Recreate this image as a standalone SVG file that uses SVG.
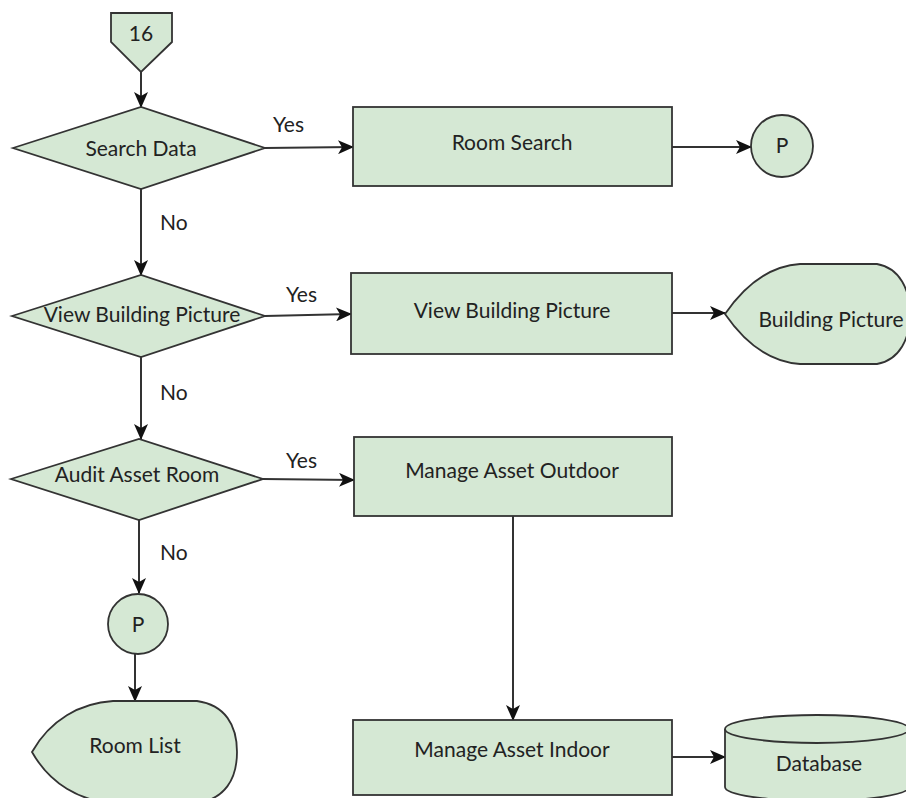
<svg xmlns="http://www.w3.org/2000/svg" width="906" height="798" viewBox="0 0 906 798">
  <defs>
    <style>
      .shape { fill: #d5e8d4; stroke: #333333; stroke-width: 1.8; }
      .lbl { font-family: Lato, "Open Sans", sans-serif; font-size: 21px; fill: #222222; text-anchor: middle; }
      .edge { fill: none; stroke: #333333; stroke-width: 2; }
      .elbl { font-family: Lato, "Open Sans", sans-serif; font-size: 21px; fill: #222222; }
    </style>
    <marker id="arr" viewBox="0 0 16 14" refX="15" refY="7" markerWidth="16" markerHeight="14" markerUnits="userSpaceOnUse" orient="auto">
      <path d="M0,0 L16,7 L0,14 L4,7 Z" fill="#111111"/>
    </marker>
  </defs>
  <rect width="906" height="798" fill="#ffffff"/>

  <g id="connectors">
    <line class="edge" x1="141" y1="72" x2="141" y2="107" marker-end="url(#arr)"/>
    <line class="edge" x1="265" y1="148" x2="353" y2="147" marker-end="url(#arr)"/>
    <line class="edge" x1="672" y1="147" x2="751" y2="147" marker-end="url(#arr)"/>
    <line class="edge" x1="141" y1="189" x2="141" y2="275" marker-end="url(#arr)"/>
    <line class="edge" x1="265" y1="316" x2="351" y2="314" marker-end="url(#arr)"/>
    <line class="edge" x1="672" y1="313" x2="725" y2="313" marker-end="url(#arr)"/>
    <line class="edge" x1="141" y1="357" x2="141" y2="439" marker-end="url(#arr)"/>
    <line class="edge" x1="263" y1="479" x2="354" y2="480" marker-end="url(#arr)"/>
    <line class="edge" x1="513" y1="516" x2="513" y2="720" marker-end="url(#arr)"/>
    <line class="edge" x1="672" y1="757" x2="725" y2="757" marker-end="url(#arr)"/>
    <line class="edge" x1="139" y1="520" x2="139" y2="593" marker-end="url(#arr)"/>
    <line class="edge" x1="135" y1="654" x2="135" y2="701" marker-end="url(#arr)"/>
    <text class="elbl" x="273" y="132">Yes</text>
    <text class="elbl" x="160" y="230">No</text>
    <text class="elbl" x="286" y="302">Yes</text>
    <text class="elbl" x="160" y="400">No</text>
    <text class="elbl" x="286" y="468">Yes</text>
    <text class="elbl" x="160" y="560">No</text>
  </g>

  <g id="offpage16">
    <polygon class="shape" points="111,13 172,13 172,42 141,72 111,42"/>
    <text class="lbl" x="141" y="41">16</text>
  </g>

  <g id="searchData">
    <polygon class="shape" points="13,148 141,107 265,148 141,189"/>
    <text class="lbl" x="141" y="156">Search Data</text>
  </g>

  <g id="roomSearch">
    <rect class="shape" x="353" y="107" width="319" height="79"/>
    <text class="lbl" x="512" y="150">Room Search</text>
  </g>

  <g id="connectorP1">
    <circle class="shape" cx="782" cy="146" r="31"/>
    <text class="lbl" x="782" y="153">P</text>
  </g>

  <g id="viewBuildingPictureDecision">
    <polygon class="shape" points="12,316 141,275 265,316 141,357"/>
    <text class="lbl" x="142" y="322">View Building Picture</text>
  </g>

  <g id="viewBuildingPictureProcess">
    <rect class="shape" x="351" y="273" width="321" height="81"/>
    <text class="lbl" x="512" y="318">View Building Picture</text>
  </g>

  <g id="buildingPicture">
    <path class="shape" d="M725,314 C745,285 770,266 800,264 L877,264 C900,268 910,290 910,314 C910,338 900,360 877,364 L800,364 C770,362 745,343 725,314 Z"/>
    <text class="lbl" x="831" y="327">Building Picture</text>
  </g>

  <g id="auditAssetRoom">
    <polygon class="shape" points="11,479 139,439 263,479 139,520"/>
    <text class="lbl" x="137" y="482">Audit Asset Room</text>
  </g>

  <g id="manageAssetOutdoor">
    <rect class="shape" x="354" y="437" width="318" height="79"/>
    <text class="lbl" x="512" y="478">Manage Asset Outdoor</text>
  </g>

  <g id="connectorP2">
    <circle class="shape" cx="138" cy="624" r="30"/>
    <text class="lbl" x="138" y="632">P</text>
  </g>

  <g id="roomList">
    <path class="shape" d="M32,752 C50,720 80,703 113,701 L197,701 C225,705 237,725 237,752 C237,779 225,799 197,803 L113,803 C80,801 50,784 32,752 Z"/>
    <text class="lbl" x="135" y="753">Room List</text>
  </g>

  <g id="manageAssetIndoor">
    <rect class="shape" x="353" y="720" width="319" height="75"/>
    <text class="lbl" x="512" y="757">Manage Asset Indoor</text>
  </g>

  <g id="database">
    <path class="shape" d="M725,729 A92,14 0 0 1 909,729 L909,787 A92,14 0 0 1 725,787 Z"/>
    <path class="shape" fill="none" d="M725,729 A92,14 0 0 0 909,729"/>
    <text class="lbl" x="819" y="771">Database</text>
  </g>
</svg>
